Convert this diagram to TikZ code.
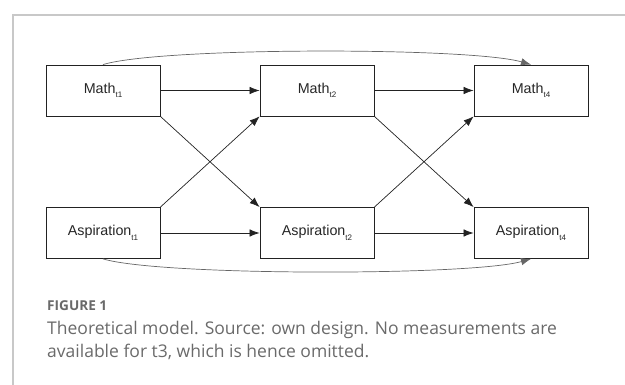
\documentclass[tikz,border=0pt]{standalone}
\usepackage{fontspec}
\setmainfont{Liberation Sans}
\newfontfamily\capfont{Open Sans}
\usetikzlibrary{arrows.meta}
\definecolor{framegray}{HTML}{C8C8C8}
\definecolor{captxt}{HTML}{6A6A6A}
\definecolor{edgecol}{HTML}{222222}
\definecolor{longcol}{HTML}{666666}
% small, lowered time index
\newcommand\tix[1]{\raisebox{-4.5pt}{\fontsize{8}{8}\selectfont #1}}
\begin{document}
\begin{tikzpicture}[x=1pt,y=-1pt,
  var/.style={draw=edgecol, line width=0.8pt, minimum width=114pt, minimum height=51pt,
              inner sep=0pt, font=\fontsize{14.3}{16}\selectfont, text=black!85},
  link/.style={draw=edgecol, line width=0.7pt, -{Latex[length=10pt,width=7.5pt]}},
  longlink/.style={link, draw=longcol}]
\useasboundingbox (0,0) rectangle (625,385);
% frame
\draw[framegray, line width=1.5pt] (625,15) -- (13,15) -- (13,385);

% variables
\node[var] (m1) at (103,90.5) {Math\tix{t1}};
\node[var] (m2) at (317,90.5) {Math\tix{t2}};
\node[var] (m4) at (531,90.5) {Math\tix{t4}};
\node[var] (a1) at (103,233) {Aspiration\tix{t1}};
\node[var] (a2) at (317,233) {Aspiration\tix{t2}};
\node[var] (a4) at (531,233) {Aspiration\tix{t4}};

% autoregressive paths
\draw[link] (m1) -- (m2);
\draw[link] (m2) -- (m4);
\draw[link] (a1) -- (a2);
\draw[link] (a2) -- (a4);
% cross-lagged paths
\draw[link] (m1.south east) -- (a2.north west);
\draw[link] (a1.north east) -- (m2.south west);
\draw[link] (m2.south east) -- (a4.north west);
\draw[link] (a2.north east) -- (m4.south west);
% long-term paths
\draw[longlink] (m1.north) .. controls (160,47) and (470,47) .. (m4.north);
\draw[longlink] (a1.south) .. controls (160,276) and (470,276) .. (a4.south);

% caption
\node[anchor=base west, inner sep=0pt, text=captxt, font=\capfont\bfseries\fontsize{13.6}{14}\selectfont] (fig) at (47,311) {FIGURE 1};
\node[anchor=base west, inner sep=0pt, text=captxt, font=\capfont\fontsize{17.5}{20}\selectfont] (cap1) at (47,335) {Theoretical model. Source: own design. No measurements are};
\node[anchor=base west, inner sep=0pt, text=captxt, font=\capfont\fontsize{17.5}{20}\selectfont] (cap2) at (47,358) {available for t3, which is hence omitted.};
\end{tikzpicture}
\end{document}
